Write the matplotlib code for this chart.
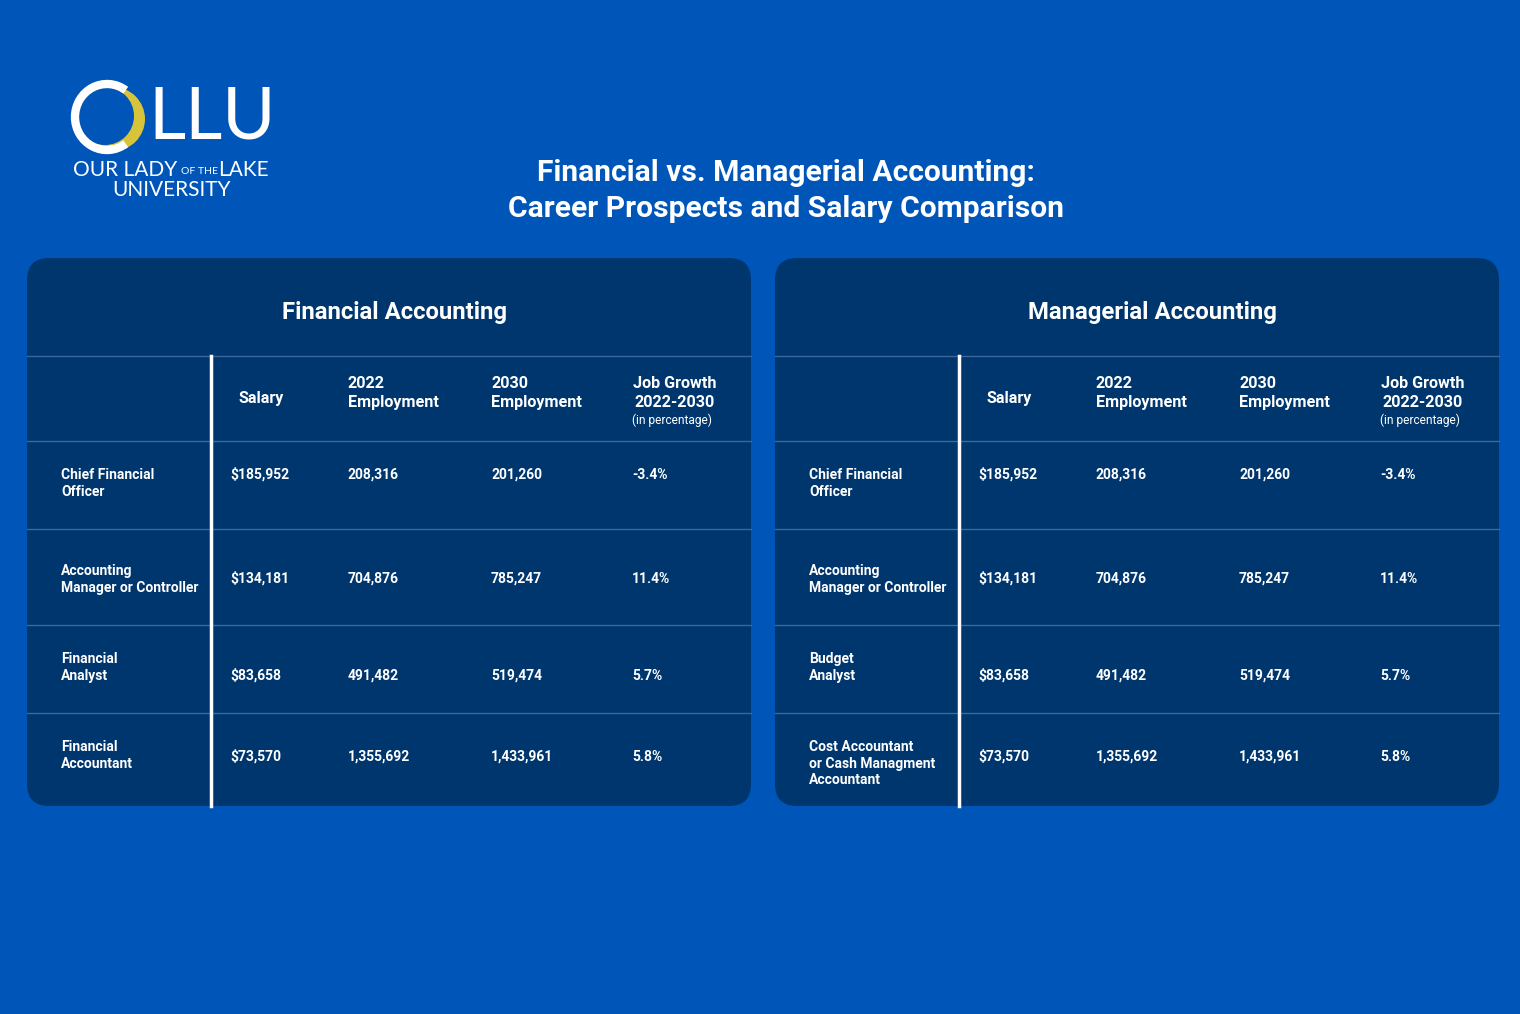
import matplotlib
matplotlib.use("Agg")
import matplotlib.pyplot as plt
from matplotlib.patches import FancyBboxPatch, Arc, Circle

plt.rcParams['font.family'] = ['Roboto', 'DejaVu Sans']

BG = '#0055b8'
PANEL = '#00366e'
GRID = '#3d679c'

# data
headers = ["Salary", "2022\nEmployment", "2030\nEmployment", "Job Growth\n2022-2030"]
fin_roles = ["Chief Financial\nOfficer", "Accounting\nManager or Controller",
             "Financial\nAnalyst", "Financial\nAccountant"]
man_roles = ["Chief Financial\nOfficer", "Accounting\nManager or Controller",
             "Budget\nAnalyst", "Cost Accountant\nor Cash Managment\nAccountant"]
salary = ["$185,952", "$134,181", "$83,658", "$73,570"]
emp_2022 = ["208,316", "704,876", "491,482", "1,355,692"]
emp_2030 = ["201,260", "785,247", "519,474", "1,433,961"]
growth = ["-3.4%", "11.4%", "5.7%", "5.8%"]

fig = plt.figure(figsize=(15.2, 10.14), dpi=100, facecolor=BG)
ax = fig.add_axes([0, 0, 1, 1])
ax.set_xlim(0, 1520)
ax.set_ylim(1014, 0)
ax.axis('off')

# logo
ax.add_patch(Circle((113, 119), 32, fc='#d8c43a', ec='none'))
ax.add_patch(Circle((105, 116), 29, fc=BG, ec='none'))
ax.add_patch(Arc((107, 117), 64, 66, theta1=55, theta2=305, color='white', lw=6))
ax.add_patch(Arc((104, 116), 60, 62, theta1=75, theta2=290, color='white', lw=1.2))
ax.text(148, 118, "LLU", color='white', fontsize=52, family='Lato', va='center', ha='left')
ax.text(73, 170, "OUR LADY", color='white', fontsize=15, family='Lato', va='center')
ax.text(181, 171, "OF THE", color='white', fontsize=7.5, family='Lato', va='center')
ax.text(218, 170, "LAKE", color='white', fontsize=15, family='Lato', va='center')
ax.text(171, 190, "UNIVERSITY", color='white', fontsize=15, family='Lato', va='center', ha='center')

# title
ax.text(786, 173, "Financial vs. Managerial Accounting:", color='white', fontsize=21.6,
        fontweight='bold', ha='center', va='center')
ax.text(786, 209, "Career Prospects and Salary Comparison", color='white', fontsize=21.6,
        fontweight='bold', ha='center', va='center')

row_lines = [441, 529, 625, 713]
value_y = [479, 583, 680, 761]
label_y = [468, 564, 652, 740]


def panel(x0, title, title_x, roles):
    w = 724
    ax.add_patch(FancyBboxPatch((x0, 258), w, 548, boxstyle="round,pad=0,rounding_size=22",
                                fc=PANEL, ec='none'))
    ax.text(title_x, 313, title, color='white', fontsize=17.2, fontweight='bold',
            ha='center', va='center')
    ax.plot([x0, x0 + w], [356, 356], color=GRID, lw=1)
    for y in row_lines:
        ax.plot([x0, x0 + w], [y, y], color=GRID, lw=1)
    ax.plot([x0 + 184, x0 + 184], [356, 806], color='white', lw=2.5)

    # headers
    ax.text(x0 + 234, 399, headers[0], color='white', fontsize=11.6, fontweight='bold',
            ha='center', va='center')
    ax.text(x0 + 321, 393, headers[1], color='white', fontsize=11.6, fontweight='bold',
            ha='left', va='center', linespacing=1.35)
    ax.text(x0 + 464, 393, headers[2], color='white', fontsize=11.6, fontweight='bold',
            ha='left', va='center', linespacing=1.35)
    ax.text(x0 + 648, 393, headers[3], color='white', fontsize=11.6, fontweight='bold',
            ha='center', va='center', linespacing=1.35)
    ax.text(x0 + 645, 420, "(in percentage)", color='white', fontsize=8.6,
            ha='center', va='center')

    cols = [salary, emp_2022, emp_2030, growth]
    col_x = [x0 + 203, x0 + 321, x0 + 464, x0 + 605]
    for i in range(len(roles)):
        ax.text(x0 + 34, label_y[i], roles[i], color='white', fontsize=10, fontweight='bold',
                ha='left', va='top', linespacing=1.25)
        for cx, col in zip(col_x, cols):
            ax.text(cx, value_y[i], col[i], color='white', fontsize=10, fontweight='bold',
                    ha='left', va='baseline')


panel(27, "Financial Accounting", 394, fin_roles)
panel(775, "Managerial Accounting", 1152, man_roles)

fig.savefig("out.png", dpi=100, facecolor=BG)
